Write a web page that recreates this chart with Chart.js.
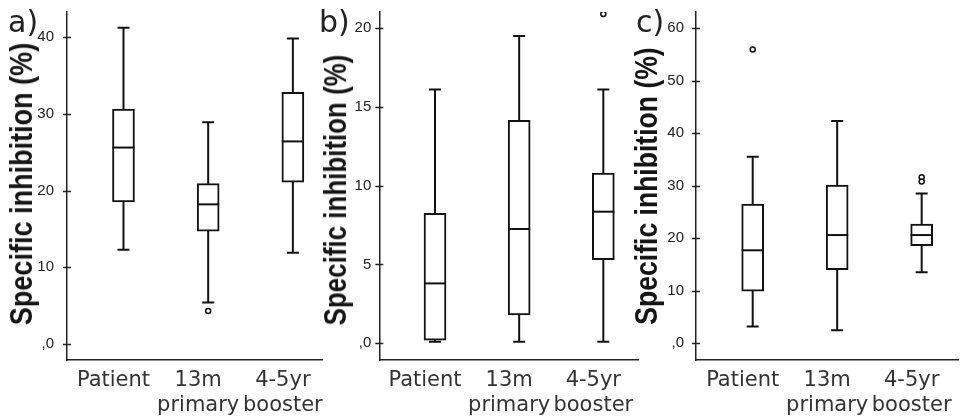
<!DOCTYPE html>
<html>
<head>
<meta charset="utf-8">
<script src="https://cdn.jsdelivr.net/npm/chart.js@4.4.1/dist/chart.umd.min.js"></script>
<style>
    body { margin: 0; background: #fff; width: 965px; height: 418px; position: relative; overflow: hidden; }
    canvas { position: absolute; top: 0; }
    .panel-tag { position: absolute; top: 7px; font-family: 'DejaVu Sans'; font-size: 30px; line-height: 30px; color: #222; }
    .y-title {
        position: absolute; white-space: nowrap; color: #151515;
        font-family: 'Liberation Sans'; font-weight: bold; font-size: 32px; line-height: 32px;
    }
</style>
</head>
<body>
<canvas id="chartA" width="328" height="418" style="left:0px"></canvas>
<canvas id="chartB" width="328" height="418" style="left:316px"></canvas>
<canvas id="chartC" width="329" height="418" style="left:636px"></canvas>
<div class="panel-tag" style="left:8px">a)</div>
<div class="panel-tag" style="left:319px">b)</div>
<div class="panel-tag" style="left:636px">c)</div>
<div class="y-title" style="left:21px; top:184px; transform: translate(-50%, -50%) rotate(-90deg) scaleX(0.845)">Specific inhibition (%)</div>
<div class="y-title" style="left:335px; top:190px; transform: translate(-50%, -50%) rotate(-90deg) scaleX(0.81)">Specific inhibition (%)</div>
<div class="y-title" style="left:646px; top:186px; transform: translate(-50%, -50%) rotate(-90deg) scaleX(0.83)">Specific inhibition (%)</div>

<script>
    // ==================== DATA ====================
    const categories = ['Patient', ['13m', 'primary'], ['4-5yr', 'booster']];

    // a)
    const aLow = [12.3, 5.4, 11.9];
    const aQ1 = [18.5, 14.7, 21.1];
    const aMedian = [25.6, 18.2, 26.4];
    const aQ3 = [30.6, 20.9, 32.8];
    const aHigh = [41.2, 28.9, 39.8];
    const aOutliers = [[], [4.3], []];
    const aTicks = [0, 10, 20, 30, 40];

    // b)
    const bLow = [0.1, 0.1, 0.1];
    const bQ1 = [0.2, 1.8, 5.3];
    const bMedian = [3.8, 7.25, 8.35];
    const bQ3 = [8.25, 14.15, 10.8];
    const bHigh = [16.1, 19.5, 16.1];
    const bOutliers = [[], [], [20.9]];
    const bTicks = [0, 5, 10, 15, 20];

    // c)
    const cLow = [3.2, 2.5, 13.5];
    const cQ1 = [9.9, 14.0, 18.6];
    const cMedian = [17.7, 20.6, 20.6];
    const cQ3 = [26.5, 30.1, 22.7];
    const cHigh = [35.5, 42.3, 28.5];
    const cOutliers = [[55.9], [], [31.6, 30.8]];
    const cTicks = [0, 10, 20, 30, 40, 50, 60];

    const INK = '#111';

    // whiskers behind the boxes, medians on top, tick marks across the y axis
    const boxDecor = {
        id: 'boxDecor',
        beforeDatasetsDraw(chart, args, opts) {
            const { ctx, scales: { x, y } } = chart;
            ctx.save();
            ctx.strokeStyle = INK;
            ctx.lineWidth = 2;
            opts.low.forEach((lo, i) => {
                const px = x.getPixelForValue(i);
                const top = y.getPixelForValue(opts.high[i]);
                const bot = y.getPixelForValue(lo);
                ctx.beginPath();
                ctx.moveTo(px, top); ctx.lineTo(px, bot);
                ctx.moveTo(px - 6, top); ctx.lineTo(px + 6, top);
                ctx.moveTo(px - 6, bot); ctx.lineTo(px + 6, bot);
                ctx.stroke();
            });
            ctx.restore();
        },
        afterDatasetsDraw(chart, args, opts) {
            const { ctx, scales: { x, y } } = chart;
            ctx.save();
            ctx.strokeStyle = INK;
            ctx.lineWidth = 2;
            opts.median.forEach((m, i) => {
                const px = x.getPixelForValue(i);
                const py = y.getPixelForValue(m);
                ctx.beginPath();
                ctx.moveTo(px - 11, py); ctx.lineTo(px + 11, py);
                ctx.stroke();
            });
            ctx.restore();
        },
        afterDraw(chart, args, opts) {
            const { ctx, chartArea, scales: { y } } = chart;
            ctx.save();
            ctx.strokeStyle = '#222';
            ctx.lineWidth = 1.5;
            opts.ticks.forEach(v => {
                const py = Math.round(y.getPixelForValue(v)) + 0.5;
                ctx.beginPath();
                ctx.moveTo(chartArea.left - 4, py);
                ctx.lineTo(chartArea.left + 4, py);
                ctx.stroke();
            });
            ctx.restore();
        }
    };

    function buildPanel(canvasId, p) {
        const boxes = categories.map((c, i) => ({ x: i, y: [p.q1[i], p.q3[i]] }));
        const outliers = p.outliers.flatMap((vals, i) => vals.map(v => ({ x: i, y: v })));

        return new Chart(document.getElementById(canvasId), {
            type: 'bar',
            data: {
                datasets: [
                    {
                        type: 'line',
                        data: outliers,
                        showLine: false,
                        pointRadius: 2.5,
                        pointBorderWidth: 1.5,
                        pointBorderColor: INK,
                        pointBackgroundColor: '#fff',
                        order: 0
                    },
                    {
                        data: boxes,
                        backgroundColor: '#fff',
                        borderColor: INK,
                        borderWidth: 2,
                        borderSkipped: false,
                        barThickness: 22,
                        order: 1
                    }
                ]
            },
            options: {
                responsive: false,
                animation: false,
                devicePixelRatio: 1,
                layout: { padding: { top: 12, right: p.padRight, left: 0, bottom: 0 } },
                plugins: {
                    legend: { display: false },
                    tooltip: { enabled: false },
                    boxDecor: { low: p.low, high: p.high, median: p.median, ticks: p.ticks }
                },
                scales: {
                    x: {
                        type: 'linear',
                        offset: false,
                        min: p.xMin,
                        max: p.xMax,
                        afterBuildTicks: s => { s.ticks = categories.map((c, i) => ({ value: i })); },
                        afterFit: s => { s.height = 58; s.paddingLeft = 0; s.paddingRight = 0; },
                        grid: { display: false, drawTicks: false, offset: false },
                        border: { display: true, color: '#222', width: 1.5 },
                        ticks: {
                            autoSkip: false,
                            maxRotation: 0,
                            padding: 8,
                            labelOffset: -10,
                            color: '#333',
                            font: { family: 'DejaVu Sans', size: 21, lineHeight: 1.19 },
                            callback: v => categories[v]
                        }
                    },
                    y: {
                        min: p.yMin,
                        max: p.yMax,
                        afterBuildTicks: s => { s.ticks = p.ticks.map(v => ({ value: v })); },
                        afterFit: s => { s.width = p.axisWidth; s.paddingTop = 0; s.paddingBottom = 0; },
                        grid: { display: false, drawTicks: false },
                        border: { display: true, color: '#222', width: 1.5 },
                        ticks: {
                            padding: p.tickPad,
                            color: '#222',
                            font: { family: 'Liberation Sans', size: 15 },
                            callback: v => (v === 0 ? ',0' : String(v))
                        }
                    }
                }
            },
            plugins: [boxDecor]
        });
    }

    buildPanel('chartA', {
        low: aLow, q1: aQ1, median: aMedian, q3: aQ3, high: aHigh, outliers: aOutliers, ticks: aTicks,
        yMin: -2.08, yMax: 43.26, xMin: -0.667, xMax: 2.35,
        axisWidth: 67, padRight: 3, tickPad: 13
    });

    buildPanel('chartB', {
        low: bLow, q1: bQ1, median: bMedian, q3: bQ3, high: bHigh, outliers: bOutliers, ticks: bTicks,
        yMin: -1.06, yMax: 21.02, xMin: -0.662, xMax: 2.418,
        axisWidth: 63.3, padRight: 2.3, tickPad: 8
    });

    buildPanel('chartC', {
        low: cLow, q1: cQ1, median: cMedian, q3: cQ3, high: cHigh, outliers: cOutliers, ticks: cTicks,
        yMin: -3.18, yMax: 63.05, xMin: -0.671, xMax: 2.43,
        axisWidth: 60, padRight: 7, tickPad: 12
    });
</script>
</body>
</html>
